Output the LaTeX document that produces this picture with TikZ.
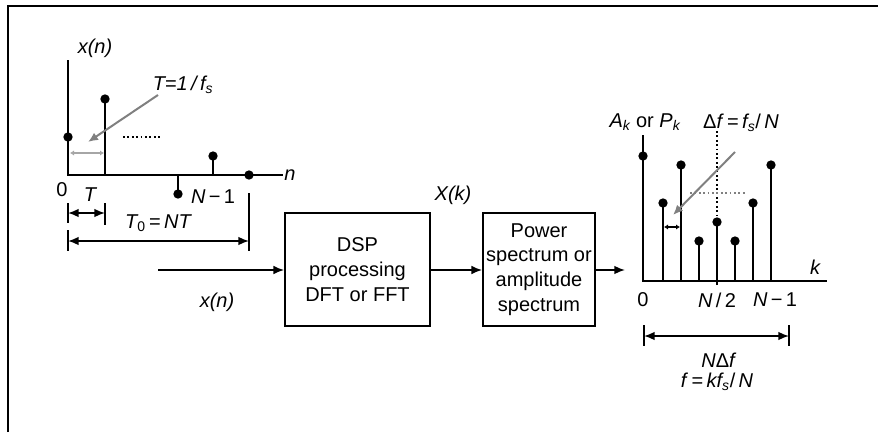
\documentclass[tikz,border=0pt]{standalone}
\usepackage{fontspec}
\setmainfont{Liberation Sans}
\usetikzlibrary{arrows.meta}
\newcommand\subs[1]{\textsubscript{\itshape #1}}
\begin{document}
\begin{tikzpicture}[x=0.75pt,y=-0.75pt, line width=1.25pt,
 lbl/.style={font=\fontsize{15}{18}\selectfont\itshape, inner sep=0pt},
 boxtxt/.style={font=\fontsize{15}{18.5}\selectfont, align=center},
 box/.style={draw, line width=1.3pt, minimum height=84.75pt, inner sep=0pt},
 arr/.style={-{Latex[length=8pt,width=6.5pt]}},
 darr/.style={{Latex[length=8pt,width=6.5pt]}-{Latex[length=8pt,width=6.5pt]}},
 sdarr/.style={{Latex[length=3pt,width=4pt]}-{Latex[length=3pt,width=4pt]}},
 dot/.style={circle, fill, inner sep=0pt, minimum size=7pt},
 grayarr/.style={draw=gray, line width=1.5pt, -{Latex[length=7.5pt,width=6.5pt]}},
 dotline/.style={dotted, line width=1.3pt}
]
\useasboundingbox (0,0) rectangle (878,432);
\draw[line width=1.6pt] (8,432) -- (8,6) -- (878,6);

% ---------- left plot ----------
\draw (68,60) -- (68,175) -- (283,175);
\draw (105,175) -- (105,99);
\draw (178,175) -- (178,194);
\draw (213,175) -- (213,156);
\node[dot] (a0) at (68,137) {};
\node[dot] (a1) at (105,99) {};
\node[dot] (a2) at (178,194) {};
\node[dot] (a3) at (213,156) {};
\node[dot] (a4) at (249,175) {};
\draw[dotline] (123,137) -- (160,137);
\draw[draw=gray!70, line width=1.7pt, sdarr] (70,153) -- (104,153);
\coordinate (tArrS) at (158,95);
\coordinate (tArrE) at (88,142);
\draw[grayarr] (tArrS) -- (tArrE);
\node[lbl] (xn1) at (95,48) {x(n)};
\node[lbl] (tlab) at (183,85) {T=1\,/\,f\subs{s}};
\node[lbl] (nlab) at (290,175) {n};
\node[lbl, font=\fontsize{15}{18}\selectfont] (zero1) at (62,190) {0};
\node[lbl] (Tlab) at (90,195) {T};
\node[lbl] (nm1) at (213,197) {N\textup{\,−\,1}};
\node[lbl] (T0lab) at (158,223) {T\subs{\upshape 0}\textup{\,=\,}NT};
\draw[darr] (68,213) -- (105,213);
\draw (68,203) -- (68,223);
\draw (105,203) -- (105,225);
\draw[darr] (68,241) -- (249,241);
\draw (68,230) -- (68,251);
\draw (249,193) -- (249,251);

% ---------- blocks ----------
\node[box, minimum width=108.75pt] (dsp) at (357.5,269.5) {};
\node[boxtxt] at (dsp.center) {DSP\\processing\\DFT or FFT};
\node[box, minimum width=84pt] (pow) at (539,269.5) {};
\node[boxtxt] at (pow.center) {Power\\spectrum or\\amplitude\\spectrum};
\coordinate (inS) at (158,270);
\coordinate (outE) at (625,270);
\draw[arr] (inS) -- (dsp.west |- inS);
\draw[arr] (dsp.east |- inS) -- (pow.west |- inS);
\draw[arr] (pow.east |- inS) -- (outE);
\node[lbl] (xn2) at (217,302) {x(n)};
\node[lbl] (Xk) at (453,195) {X(k)};

% ---------- right plot ----------
\draw (643,135) -- (643,281) -- (827,281);
\foreach \x/\y in {663/203, 681/165, 699/241, 735/241, 753/203, 771/165}{
  \draw (\x,281) -- (\x,\y);
}
\draw (717,285) -- (717,222);
\node[dot] (b0) at (643,156) {};
\node[dot] (b1) at (663,203) {};
\node[dot] (b2) at (681,165) {};
\node[dot] (b3) at (699,241) {};
\node[dot] (b4) at (717,222) {};
\node[dot] (b5) at (735,241) {};
\node[dot] (b6) at (753,203) {};
\node[dot] (b7) at (771,165) {};
\draw[dotline] (717,131) -- (717,216);
\draw[dotline, gray] (690,193) -- (745,193);
\coordinate (fArrS) at (735,152);
\coordinate (fArrE) at (673,215);
\draw[grayarr] (fArrS) -- (fArrE);
\draw[sdarr, line width=0.9pt] (664,227) -- (680,227);
\node[lbl] (AkPk) at (645,122) {A\subs{k} \textup{or} P\subs{k}};
\node[lbl] (df) at (741,123) {\textup{Δ}f\textup{\,=\,}f\subs{s}\textup{/}\,N};
\node[lbl] (klab) at (815,267) {k};
\node[lbl, font=\fontsize{15}{18}\selectfont] (zero2) at (643,300) {0};
\node[lbl] (n2) at (717,300) {N\textup{\,/\,2}};
\node[lbl] (nm1b) at (775,300) {N\textup{\,−\,1}};
\draw[darr] (644,336) -- (789,336);
\draw (644,325) -- (644,346);
\draw (789,325) -- (789,346);
\node[lbl] (ndf) at (718,360) {N\textup{Δ}f};
\node[lbl] (fk) at (717,382) {f\textup{\,=\,}kf\subs{s}\textup{/}\,N};
\end{tikzpicture}
\end{document}
